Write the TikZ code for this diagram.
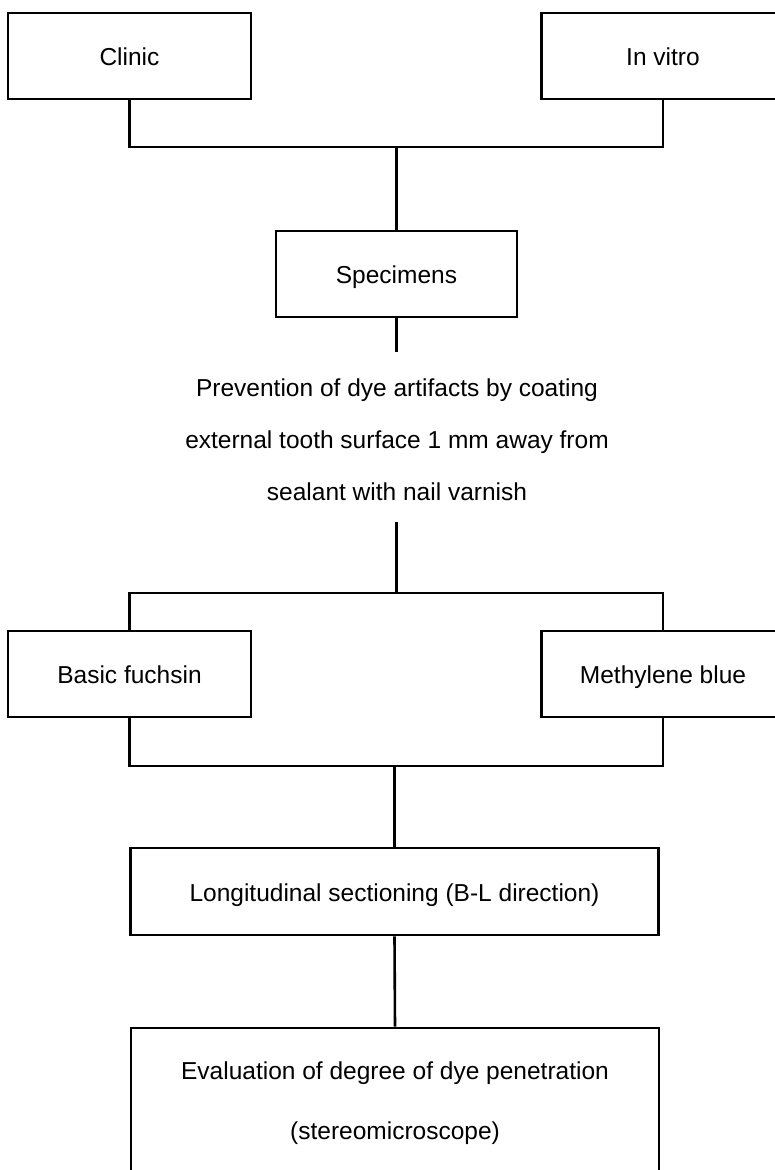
\documentclass[tikz,border=0pt]{standalone}
\usepackage{fontspec}
\setmainfont{Liberation Sans}
\usetikzlibrary{positioning}

\begin{document}
\begin{tikzpicture}[x=1pt,y=-1pt,line width=2.6pt,
  font=\fontsize{24.5}{29}\selectfont,
  box/.style={draw,rectangle,minimum width=243pt,minimum height=86pt,inner sep=0pt},
  oneline/.style={box,text height=19pt,text depth=0pt}]
  \useasboundingbox (0,0) rectangle (775,1170);
  % sources
  \node[oneline] (clinic) at (129.5,56) {Clinic};
  \node[oneline] (invitro) at (663,56) {In vitro};
  \node[oneline,minimum width=241pt] (spec) at (396.5,274) {Specimens};
  \coordinate (j1) at (396.5,147);
  \draw (clinic.south) |- (j1) -| (invitro.south);
  \draw (j1) -- (spec.north);
  % coating step
  \node[align=center,font=\fontsize{24.5}{52}\selectfont] (prev) at (397,440)
  {Prevention of dye artifacts by coating\\external tooth surface 1 mm away from\\sealant with nail varnish};
  \coordinate (p1) at (396.5,352);
  \coordinate (p2) at (396.5,522);
  \coordinate (j2) at (396.5,593);
  \draw (spec.south) -- (p1);
  \draw (p2) -- (j2);
  % dyes
  \node[oneline] (fuchsin) at (129.5,674) {Basic fuchsin};
  \node[oneline] (methyl) at (663,674) {Methylene blue};
  \draw (fuchsin.north) |- (j2) -| (methyl.north);
  \node[oneline,minimum width=528pt,minimum height=87pt] (long) at (394.5,891.5) {Longitudinal sectioning (B-L direction)};
  \coordinate (j3) at (394.5,766);
  \draw (fuchsin.south) |- (j3) -| (methyl.south);
  \draw (j3) -- (long.north);
  \node[box,minimum width=528pt,minimum height=150pt,align=center,font=\fontsize{24.5}{60}\selectfont] (eval) at (395,1103)
  {Evaluation of degree of dye penetration\\(stereomicroscope)};
  \draw (long.south) -- (eval.north);
\end{tikzpicture}
\end{document}
